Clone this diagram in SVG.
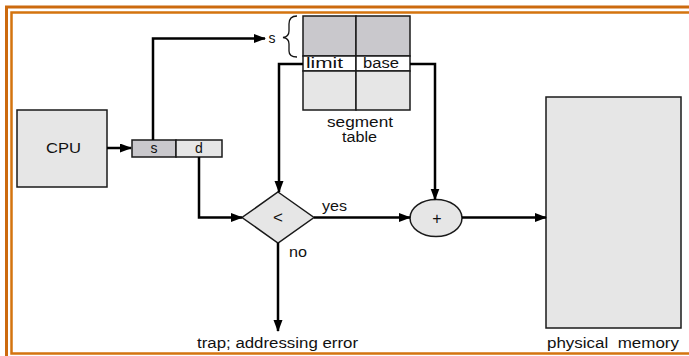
<svg xmlns="http://www.w3.org/2000/svg" width="689" height="356" viewBox="0 0 689 356">
<style>
text{font-family:"Liberation Sans",Arial,sans-serif;font-size:14px;fill:#111}
.box{stroke:#1a1a1a;stroke-width:1.5}
.lt{fill:#e6e6e6}
.dk{fill:#c9c8cc}
.conn{fill:none;stroke:#000;stroke-width:2.5}
</style>
<defs>
<marker id="ah" markerUnits="userSpaceOnUse" markerWidth="12" markerHeight="10" refX="11" refY="4.5" orient="auto">
<path d="M0,0 L12,4.5 L0,9 Z" fill="#000"/>
</marker>
</defs>
<g id="frame" fill="none">
<path d="M689,7 L6.5,7 L6.5,356" stroke="#cc6a0e" stroke-width="3"/>
<path d="M689,12.5 L11.5,12.5 L11.5,353.5 L689,353.5" stroke="#d4740f" stroke-width="2.5"/>
</g>
<g id="cpu">
<rect class="box lt" x="17" y="110" width="90" height="77"/>
<text x="63.5" y="153" text-anchor="middle" textLength="35" lengthAdjust="spacingAndGlyphs">CPU</text>
</g>
<g id="address">
<rect class="box dk" x="132" y="140" width="44" height="17"/>
<rect class="box lt" x="176" y="140" width="46" height="17"/>
<text x="154" y="153" text-anchor="middle">s</text>
<text x="199" y="153" text-anchor="middle">d</text>
</g>
<g id="segment-table">
<rect class="box dk" x="303" y="16" width="53" height="40"/>
<rect class="box dk" x="356" y="16" width="54" height="40"/>
<rect class="box" fill="#fff" x="303" y="56" width="53" height="15"/>
<rect class="box" fill="#fff" x="356" y="56" width="54" height="15"/>
<rect class="box lt" x="303" y="71" width="53" height="39"/>
<rect class="box lt" x="356" y="71" width="54" height="39"/>
<text x="324.5" y="68" text-anchor="middle" textLength="37" lengthAdjust="spacingAndGlyphs">limit</text>
<text x="381" y="68" text-anchor="middle" textLength="36" lengthAdjust="spacingAndGlyphs">base</text>
<text x="360" y="127" text-anchor="middle" textLength="66" lengthAdjust="spacingAndGlyphs">segment</text>
<text x="359.5" y="142" text-anchor="middle" textLength="35" lengthAdjust="spacingAndGlyphs">table</text>
<path d="M297,16 C291,16 289,19 289,24 L289,31 C289,35 287,37 283,37.5 C287,38 289,40 289,44 L289,51 C289,55 291,57 297,57" fill="none" stroke="#111" stroke-width="1.3"/>
<text x="272" y="42.5" text-anchor="middle">s</text>
</g>
<g id="compare">
<polygon class="box lt" points="278,192 314,217.5 278,243 242,217.5"/>
<text x="278" y="223" text-anchor="middle" style="font-size:17px">&lt;</text>
</g>
<g id="adder">
<ellipse class="box lt" cx="436" cy="218" rx="26" ry="18.5"/>
<text x="437" y="223.5" text-anchor="middle" style="font-size:16px">+</text>
</g>
<g id="memory">
<rect class="box lt" x="546" y="97" width="135" height="231"/>
<text x="613" y="348" text-anchor="middle" textLength="132" lengthAdjust="spacingAndGlyphs" xml:space="preserve">physical  memory</text>
</g>
<g id="trap">
<text x="277.5" y="348" text-anchor="middle" textLength="161" lengthAdjust="spacingAndGlyphs">trap; addressing error</text>
</g>
<g id="connectors">
<path class="conn" d="M107,148 L131,148" marker-end="url(#ah)"/>
<path class="conn" d="M153,140 L153,38.5 L265,38.5" marker-end="url(#ah)"/>
<path class="conn" d="M303,64 L279,64 L279,192" marker-end="url(#ah)"/>
<path class="conn" d="M410,64 L435,64 L435,199.5" marker-end="url(#ah)"/>
<path class="conn" d="M199,157 L199,217.5 L242,217.5" marker-end="url(#ah)"/>
<path class="conn" d="M314,217.5 L410,217.5" marker-end="url(#ah)"/>
<path class="conn" d="M462,217.5 L546,217.5" marker-end="url(#ah)"/>
<path class="conn" d="M278,243 L278,331" marker-end="url(#ah)"/>
<text x="334.5" y="211" text-anchor="middle" textLength="25" lengthAdjust="spacingAndGlyphs">yes</text>
<text x="298" y="257" text-anchor="middle" textLength="18" lengthAdjust="spacingAndGlyphs">no</text>
</g>
</svg>
